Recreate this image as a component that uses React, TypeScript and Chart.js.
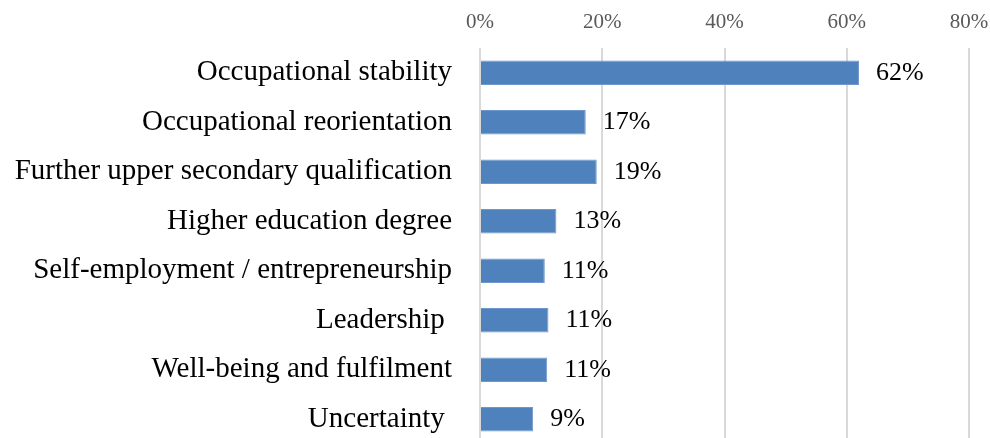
import React, { useEffect, useRef } from "react";
import { Chart, registerables } from "chart.js";

Chart.register(...registerables);

const categories = [
  "Occupational stability",
  "Occupational reorientation",
  "Further upper secondary qualification",
  "Higher education degree",
  "Self-employment / entrepreneurship",
  "Leadership ",
  "Well-being and fulfilment",
  "Uncertainty ",
];
const values = [62.0, 17.3, 19.1, 12.5, 10.6, 11.2, 11.0, 8.7];
const xMin = 0;
const xMax = 80;
const xStep = 20;

const FONT = "'Liberation Serif', 'Times New Roman', serif";

const dataLabelPlugin = {
  id: "barValueLabels",
  afterDatasetsDraw(chart: any) {
    const ctx = chart.ctx;
    const meta = chart.getDatasetMeta(0);
    ctx.save();
    ctx.font = `26px ${FONT}`;
    ctx.fillStyle = "#000000";
    ctx.textAlign = "left";
    ctx.textBaseline = "middle";
    meta.data.forEach((bar: any, i: number) => {
      const { x, y } = bar.getProps(["x", "y"], true);
      ctx.fillText(Math.round(values[i]) + "%", x + 17, y);
    });
    ctx.restore();
  },
};

export default function App() {
  const ref = useRef<HTMLCanvasElement | null>(null);

  useEffect(() => {
    if (!ref.current) return;
    const chart = new Chart(ref.current, {
      type: "bar",
      data: {
        labels: categories,
        datasets: [
          {
            data: values,
            backgroundColor: "#4F81BD",
            borderColor: "#6E97CB",
            borderWidth: 1,
            categoryPercentage: 1,
            barPercentage: 0.495,
          },
        ],
      },
      options: {
        indexAxis: "y",
        animation: false,
        responsive: false,
        devicePixelRatio: 1,
        layout: { padding: { top: 0, right: 21, left: 0, bottom: 0 } },
        plugins: {
          legend: { display: false },
          tooltip: { enabled: false },
        },
        scales: {
          x: {
            position: "top",
            min: xMin,
            max: xMax,
            ticks: {
              stepSize: xStep,
              callback: (v: any) => v + "%",
              font: { family: FONT, size: 21 },
              color: "#595959",
              padding: 13,
            },
            grid: { color: "#D9D9D9", lineWidth: 2, drawTicks: false },
            border: { display: false },
            afterFit: (scale: any) => {
              scale.height = 48;
              scale.paddingLeft = 0;
              scale.paddingRight = 0;
            },
          },
          y: {
            ticks: {
              font: { family: FONT, size: 29 },
              color: "#000000",
              padding: 28,
            },
            grid: { display: false, drawTicks: false },
            border: { display: false },
            afterFit: (scale: any) => {
              scale.width = 480;
              scale.paddingTop = 0;
              scale.paddingBottom = 0;
            },
          },
        },
      },
      plugins: [dataLabelPlugin],
    });
    return () => chart.destroy();
  }, []);

  return (
    <div
      style={{
        position: "fixed",
        left: 0,
        top: 0,
        width: 990,
        height: 438,
        overflow: "hidden",
        background: "#ffffff",
      }}
    >
      <canvas ref={ref} width={990} height={444} style={{ display: "block" }} />
    </div>
  );
}
